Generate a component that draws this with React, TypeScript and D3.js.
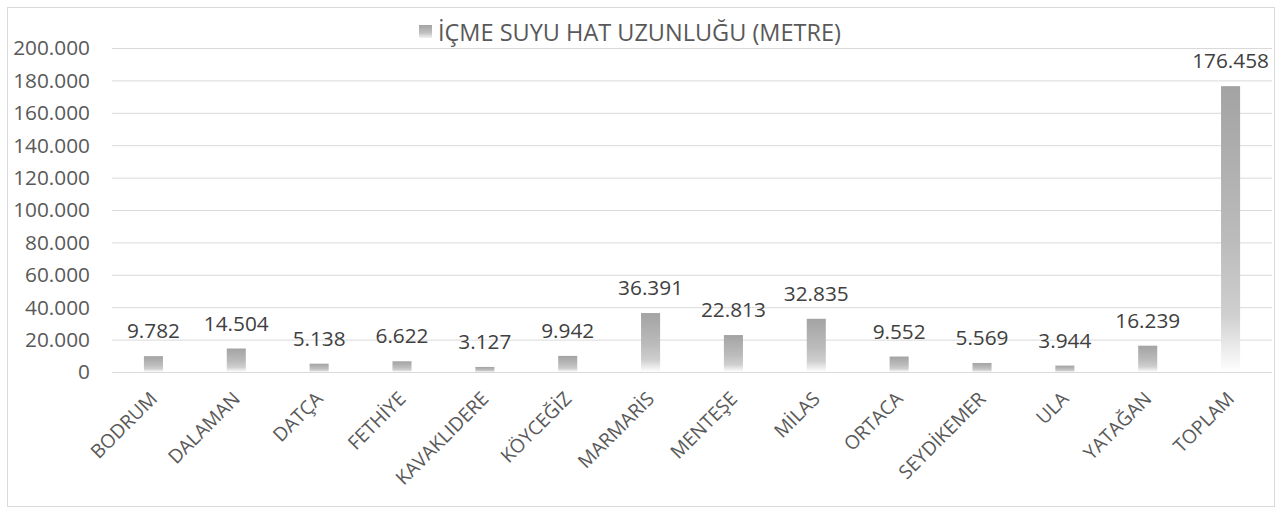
import React from 'react';
import * as d3 from 'd3';

const categories = ['BODRUM', 'DALAMAN', 'DATÇA', 'FETHİYE', 'KAVAKLIDERE', 'KÖYCEĞİZ', 'MARMARİS', 'MENTEŞE', 'MİLAS', 'ORTACA', 'SEYDİKEMER', 'ULA', 'YATAĞAN', 'TOPLAM'];
const values = [9782, 14504, 5138, 6622, 3127, 9942, 36391, 22813, 32835, 9552, 5569, 3944, 16239, 176458];
const yTicks = [0, 20000, 40000, 60000, 80000, 100000, 120000, 140000, 160000, 180000, 200000];
const seriesName = 'İÇME SUYU HAT UZUNLUĞU (METRE)';

const FONT = "'Open Sans', sans-serif";

const fmt = (v: number) => (v === 0 ? '0' : d3.format(',')(v).replace(/,/g, '.'));

export default function App() {
  const width = 1283;
  const height = 514;
  const plot = { left: 112, right: 1272, top: 48, bottom: 372 };

  const x = d3.scaleBand<string>()
    .domain(categories)
    .range([plot.left, plot.right])
    .paddingInner(0.77)
    .paddingOuter(0.385);

  const y = d3.scaleLinear().domain([0, 200000]).range([plot.bottom, plot.top]);

  return (
    <svg width={width} height={height} style={{ position: 'absolute', left: 0, top: 0, background: '#fff' }}>
      <defs>
        <linearGradient id="barGrad" x1="0" y1="0" x2="0" y2="1">
          <stop offset="0" stopColor="#a3a3a3" />
          <stop offset="0.55" stopColor="#bcbcbc" />
          <stop offset="0.8" stopColor="#cfcfcf" />
          <stop offset="1" stopColor="#ffffff" />
        </linearGradient>
        <linearGradient id="legGrad" x1="0" y1="0" x2="0" y2="1">
          <stop offset="0" stopColor="#a3a3a3" />
          <stop offset="0.6" stopColor="#c0c0c0" />
          <stop offset="1" stopColor="#f2f2f2" />
        </linearGradient>
      </defs>
      <rect x={7.5} y={7.5} width={1267} height={499} fill="#fff" stroke="#d9d9d9" />

      {/* legend */}
      <rect x={419} y={25} width={13} height={13} fill="url(#legGrad)" />
      <text x={438} y={40.5} fontFamily={FONT} fontSize={23.5} fill="#595959">{seriesName}</text>

      {/* gridlines */}
      {yTicks.map(t => (
        <g key={t}>
          <line x1={plot.left} x2={plot.right} y1={y(t) + 0.5} y2={y(t) + 0.5} stroke="#d9d9d9" strokeWidth={1} />
          <text x={90} y={y(t)} dy="0.36em" textAnchor="end" fontFamily={FONT} fontSize={20.8} fill="#595959">{fmt(t)}</text>
        </g>
      ))}

      {/* bars */}
      {categories.map((c, i) => {
        const v = values[i];
        const bx = x(c)!;
        const bw = x.bandwidth();
        return (
          <g key={c}>
            <rect x={bx} y={y(v)} width={bw} height={y(0) - y(v)} fill="url(#barGrad)" />
            <text x={bx + bw / 2} y={y(v) - 18} textAnchor="middle" fontFamily={FONT} fontSize={20.8} fill="#404040">{fmt(v)}</text>
          </g>
        );
      })}

      {/* x labels */}
      {categories.map(c => {
        const cx = x(c)! + x.bandwidth() / 2;
        return (
          <text key={c} transform={`translate(${cx + 5},${plot.bottom + 28}) rotate(-45)`} textAnchor="end"
            fontFamily={FONT} fontSize={19.2} fill="#595959">{c}</text>
        );
      })}
    </svg>
  );
}
